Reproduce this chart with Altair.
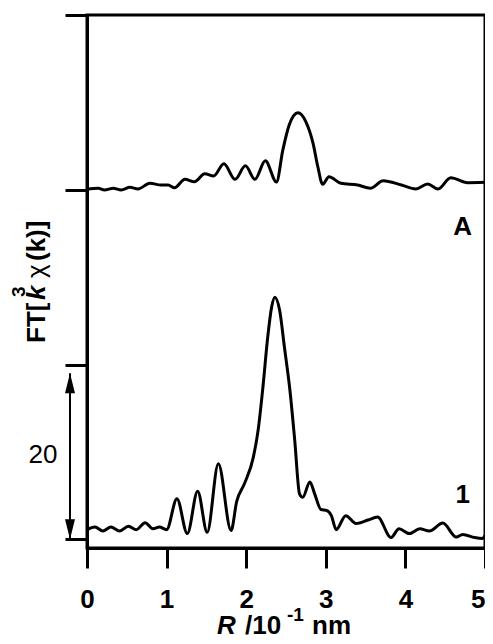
import altair as alt
import pandas as pd

# Curve "1" (bottom, baseline 0)
r1 = [0.0, 0.1, 0.2, 0.3, 0.41, 0.52, 0.62, 0.73, 0.83, 0.91,
      1.0, 1.13, 1.26, 1.39, 1.51, 1.65, 1.81, 1.88, 1.98, 2.09,
      2.15, 2.21, 2.27, 2.32, 2.36, 2.42, 2.48, 2.55, 2.61, 2.67, 2.71,
      2.80, 2.86, 2.94, 3.01, 3.07, 3.13, 3.25, 3.38, 3.53, 3.65,
      3.82, 3.92, 4.05, 4.18, 4.30, 4.47, 4.64, 4.72, 4.87, 4.97, 5.0]
ft1 = [1.1, 1.4, 0.95, 1.4, 0.95, 1.5, 1.1, 1.9, 1.2, 1.4,
       1.1, 4.65, 0.65, 5.5, 0.8, 8.65, 1.0, 4.3, 6.4, 9.4,
       12.5, 17.4, 23.1, 26.6, 27.7, 26.2, 22.0, 17.0, 11.3, 5.2, 4.8,
       6.55, 5.2, 3.4, 3.3, 2.7, 1.1, 2.7, 1.8, 2.2, 2.55,
       0.2, 1.2, 0.65, 1.2, 0.95, 1.85, 0.25, 0.55, 0.2, 0.1, 0.45]

# Curve "A" (top, shifted by OFFSET_A)
rA = [0.0, 0.14, 0.22, 0.33, 0.43, 0.54, 0.64, 0.79, 0.93, 1.02,
      1.10, 1.23, 1.35, 1.48, 1.59, 1.72, 1.86, 1.99, 2.11, 2.24,
      2.38, 2.46, 2.54, 2.65, 2.75, 2.84, 2.90, 2.96, 3.04, 3.19,
      3.40, 3.56, 3.72, 3.95, 4.13, 4.28, 4.41, 4.57, 4.78, 5.0]
ftA = [0.05, 0.17, -0.03, 0.17, -0.03, 0.28, 0.09, 0.74, 0.54, 0.54,
       0.23, 1.19, 0.92, 1.82, 1.57, 2.98, 1.19, 2.74, 1.19, 3.32,
       0.89, 4.54, 7.4, 8.81, 7.78, 5.31, 2.63, 0.62, 1.49, 0.74,
       0.54, 0.17, 1.03, 0.54, 0.09, 0.66, 0.09, 1.38, 0.81, 0.85]
OFFSET_A = 40

x_ticks = [0, 1, 2, 3, 4, 5]
y_ticks = [0, 20, 40, 60]
scale_bar = [0, 19]          # arrow spanning 20 units
curve_labels = ["A", "1"]
label_r = [4.72, 4.72]
label_ft = [35.7, 5.1]

FONT = "Liberation Sans"

df = pd.concat([
    pd.DataFrame({"R": r1, "FT": ft1, "s": "1"}),
    pd.DataFrame({"R": rA, "FT": [v + OFFSET_A for v in ftA], "s": "A"}),
])

xs = alt.Scale(domain=[0, 5], nice=False, zero=False)
ys = alt.Scale(domain=[-1, 60], nice=False, zero=False)

lines = alt.Chart(df).mark_line(color="black", strokeWidth=3, interpolate="monotone").encode(
    x=alt.X("R:Q", scale=xs, axis=alt.Axis(values=x_ticks, title=None, tickSize=20, labelPadding=18,
                                            labelFont=FONT, labelFontSize=26, labelFontWeight="bold",
                                            labelColor="black", format="d", grid=False,
                                            labelFlush=False, labelOverlap=False,
                                            labelAlign={"condition": {"test": "datum.value == 5", "value": "right"},
                                                        "value": "center"})),
    y=alt.Y("FT:Q", scale=ys, axis=alt.Axis(values=y_ticks, title=None, labels=False, tickSize=22, grid=False)),
    detail="s:N",
)

lab_df = pd.DataFrame({"R": label_r, "FT": label_ft, "t": curve_labels})
labels = alt.Chart(lab_df).mark_text(font=FONT, fontSize=26, fontWeight="bold", color="black",
                                     align="center", baseline="middle").encode(
    x=alt.X("R:Q", scale=xs), y=alt.Y("FT:Q", scale=ys), text="t:N")

bar_df = pd.DataFrame({"lo": [scale_bar[0]], "hi": [scale_bar[1]]})
bar = alt.Chart(bar_df).mark_rule(color="black", strokeWidth=2).encode(
    x=alt.value(-17), y=alt.Y("lo:Q", scale=ys), y2="hi:Q")
head_up = alt.Chart(bar_df).mark_point(shape="M0,0L1,4L-1,4Z", size=100, filled=True, color="black",
                                       opacity=1, strokeWidth=0).encode(
    x=alt.value(-17), y=alt.Y("hi:Q", scale=ys))
head_dn = alt.Chart(bar_df).mark_point(shape="M0,0L1,-4L-1,-4Z", size=100, filled=True, color="black",
                                       opacity=1, strokeWidth=0).encode(
    x=alt.value(-17), y=alt.Y("lo:Q", scale=ys))
bar_txt = alt.Chart(pd.DataFrame({"t": ["20"]})).mark_text(font=FONT, fontSize=26, color="black",
                                                          align="center", baseline="middle").encode(
    x=alt.value(-44), y=alt.value(440), text="t:N")

def piece(txt, x, y, size=26, weight="bold", style="normal", angle=0):
    return alt.Chart(pd.DataFrame({"t": [txt]})).mark_text(
        font=FONT, fontSize=size, fontWeight=weight, fontStyle=style, color="black",
        align="left", baseline="alphabetic", angle=angle).encode(
        x=alt.value(x), y=alt.value(y), text="t:N")

ytitle = [
    piece("FT[", -42, 328, angle=270),
    piece("k", -42, 285, style="italic", angle=270),
    piece("3", -62, 282, size=19, angle=270),
    piece("χ", -42, 263, weight="normal", angle=270),
    piece("(k)]", -42, 246, angle=270),
]
xtitle = [
    piece("R", 130, 619, style="italic"),
    piece("/10", 158, 619),
    piece("-1", 200, 606, size=19),
    piece("nm", 225, 619),
]

chart = alt.layer(lines, labels, bar, head_up, head_dn, bar_txt, *ytitle, *xtitle).properties(
    width=398, height=533,
    autosize=alt.AutoSizeParams(type="none"),
    padding={"left": 79, "top": 7, "right": 0, "bottom": 88},
).configure_view(stroke="black", strokeWidth=3).configure_axis(
    domainColor="black", domainWidth=3, tickColor="black", tickWidth=3
)

chart.save("out.html", embed_options={"renderer": "svg", "actions": False})
